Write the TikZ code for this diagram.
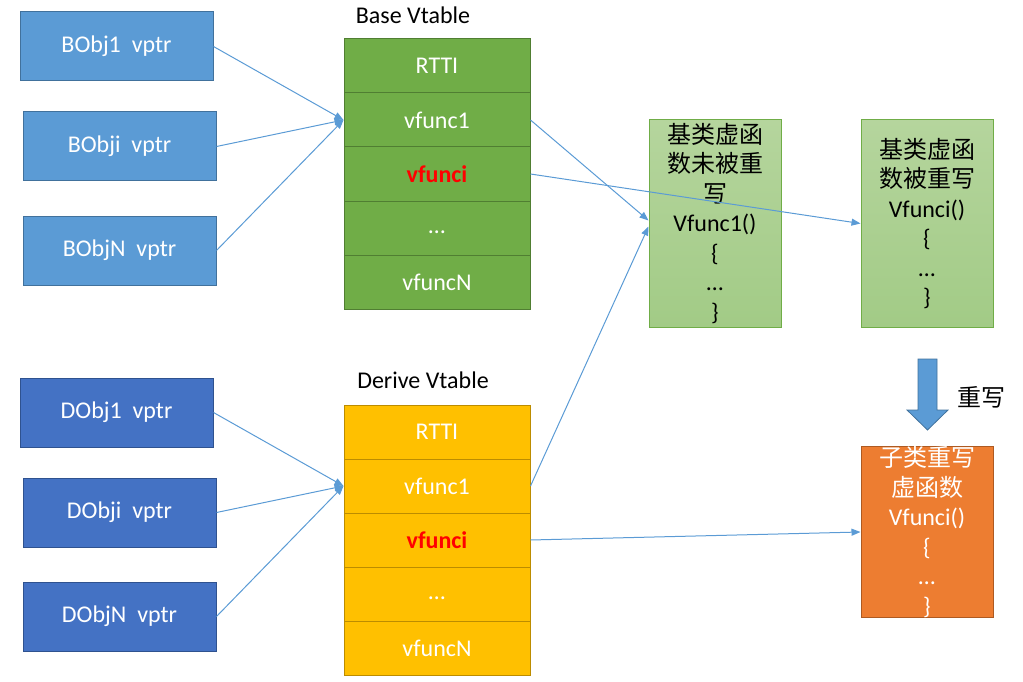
\documentclass[tikz,border=0pt]{standalone}
\usepackage{fontspec}
\setmainfont{Carlito}
\newfontfamily\cjk{Noto Sans CJK SC}
\usetikzlibrary{arrows.meta}
\definecolor{lblue}{HTML}{5B9BD5}
\definecolor{lbluedraw}{HTML}{41719C}
\definecolor{dblue}{HTML}{4472C4}
\definecolor{dbluedraw}{HTML}{2F528F}
\definecolor{tgreen}{HTML}{70AD47}
\definecolor{tgreendraw}{HTML}{507E32}
\definecolor{tyellow}{HTML}{FFC000}
\definecolor{tyellowdraw}{HTML}{BC8C00}
\definecolor{ltop}{HTML}{B5D59D}
\definecolor{lbot}{HTML}{A2CB86}
\definecolor{torange}{HTML}{ED7D31}
\definecolor{torangedraw}{HTML}{AE5A21}
\definecolor{fred}{HTML}{FF0000}
\begin{document}
\begin{tikzpicture}[x=1pt,y=-1pt,
  txt/.style={font=\fontsize{24}{29.5}\selectfont},
  objbox/.style={txt,draw=lbluedraw,fill=lblue,text=white,line width=1pt,minimum width=193pt,minimum height=69pt,inner sep=0pt},
  dobjbox/.style={objbox,draw=dbluedraw,fill=dblue},
  brow/.style={txt,draw=tgreendraw,fill=tgreen,text=white,line width=1pt,minimum width=186pt,minimum height=54pt,inner sep=0pt},
  drow/.style={brow,draw=tyellowdraw,fill=tyellow},
  redtxt/.style={text=fred,font=\fontsize{24}{29.5}\selectfont\bfseries},
  funcbox/.style={txt,draw=tgreen,line width=1pt,top color=ltop,bottom color=lbot,text=black,align=center,minimum width=132pt,minimum height=207pt,inner sep=0pt},
  obox/.style={txt,draw=torangedraw,fill=torange,text=white,line width=1pt,align=center,minimum width=132pt,minimum height=170pt,inner sep=0pt},
  conn/.style={draw=lblue,line width=1pt,-{Triangle[length=9pt,width=7pt]}},
  lbl/.style={txt,text=black}
]
\useasboundingbox (0,0) rectangle (1023,682);

% object boxes
\node[objbox] (b1) at (116.5,46.5) {BObj1\ \ vptr};
\node[objbox] (bi) at (119.5,146.5) {BObji\ \ vptr};
\node[objbox] (bn) at (119.5,250.5) {BObjN\ \ vptr};
\node[dobjbox] (d1) at (116.5,412.5) {DObj1\ \ vptr};
\node[dobjbox] (di) at (119.5,512.5) {DObji\ \ vptr};
\node[dobjbox] (dn) at (119.5,616.5) {DObjN\ \ vptr};

% base vtable
\node[lbl] (btitle) at (413,15) {Base Vtable};
\node[brow] (br1) at (437,66) {RTTI};
\node[brow] (br2) at (437,120) {vfunc1};
\node[brow,redtxt] (br3) at (437,174) {vfunci};
\node[brow] (br4) at (437,228) {\vphantom{Vg}…};
\node[brow] (br5) at (437,282) {vfuncN};

% derive vtable
\node[lbl] (dtitle) at (423,380) {Derive Vtable};
\node[drow] (dr1) at (437,432) {RTTI};
\node[drow] (dr2) at (437,486) {vfunc1};
\node[drow,redtxt] (dr3) at (437,540) {vfunci};
\node[drow] (dr4) at (437,594) {\vphantom{Vg}…};
\node[drow] (dr5) at (437,648) {vfuncN};

% function boxes
\node[funcbox] (g1) at (715,223.5) {{\cjk 基类虚函}\\{\cjk 数未被重}\\{\cjk 写}\\Vfunc1()\\\{\\…\\\}};
\node[funcbox] (g2) at (927,223.5) {{\cjk 基类虚函}\\{\cjk 数被重写}\\Vfunci()\\\{\\…\\\}};
\node[obox] (o1) at (927,532) {{\cjk 子类重写}\\{\cjk 虚函数}\\Vfunci()\\\{\\…\\\}};

% big arrow
\draw[draw=lbluedraw,fill=lblue,line width=0.8pt] (918,359) -- (937,359) -- (937,410) -- (948,410) -- (927.5,430) -- (907,410) -- (918,410) -- cycle;
\node[lbl] (rw) at (981,397) {\cjk 重写};

% connectors
\draw[conn] (b1.east) -- (br2.west);
\draw[conn] (bi.east) -- (br2.west);
\draw[conn] (bn.east) -- (br2.west);
\draw[conn] (d1.east) -- (dr2.west);
\draw[conn] (di.east) -- (dr2.west);
\draw[conn] (dn.east) -- (dr2.west);
\draw[conn] (br2.east) -- ([yshift=3pt]g1.west);
\draw[conn] (dr2.east) -- ([yshift=-3pt]g1.west);
\draw[conn] (br3.east) -- (g2.west);
\draw[conn] (dr3.east) -- (o1.west);
\end{tikzpicture}
\end{document}
